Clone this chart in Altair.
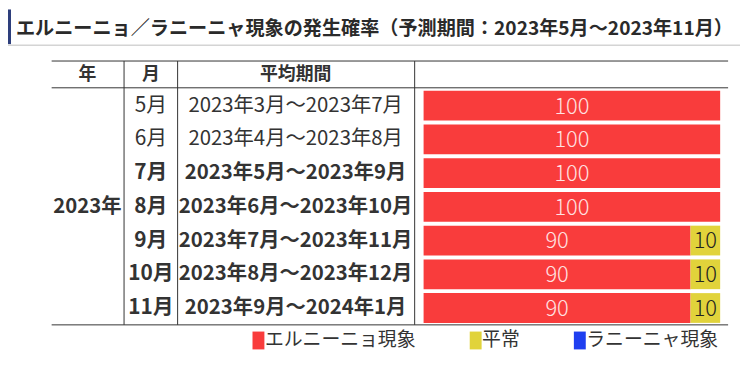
import altair as alt
import pandas as pd

# ---------------- data ----------------
title_text = "エルニーニョ／ラニーニャ現象の発生確率（予測期間：2023年5月～2023年11月）"
headers = ["年", "月", "平均期間"]
year_label = "2023年"
year_row = "8月"
months = ["5月", "6月", "7月", "8月", "9月", "10月", "11月"]
periods = [
    "2023年3月～2023年7月",
    "2023年4月～2023年8月",
    "2023年5月～2023年9月",
    "2023年6月～2023年10月",
    "2023年7月～2023年11月",
    "2023年8月～2023年12月",
    "2023年9月～2024年1月",
]
observed_months = ["5月", "6月"]
el_nino = [100, 100, 100, 100, 90, 90, 90]
normal = [0, 0, 0, 0, 10, 10, 10]
la_nina = [0, 0, 0, 0, 0, 0, 0]
categories = ["エルニーニョ現象", "平常", "ラニーニャ現象"]
colors = ["#f93c3c", "#e1d33b", "#1f3ff0"]

# ---------------- layout (plot coords) ----------------
FONT = "Noto Sans CJK JP"
TXT = "#333333"
LINE = "#333333"
W, H = 738, 356
TABLE_L, TABLE_R = 44, 726
Y_TOP, Y_HEAD, Y_BOT = 52, 79, 318
V_LINES = [117, 171, 410]
header_x = [80, 144, 290]
YEAR_X, MONTH_X, PERIOD_X = 80, 144, 290

rows = pd.DataFrame({
    "month": months,
    "period": periods,
    "observed": [m in observed_months for m in months],
})
rows_year = pd.DataFrame({"month": [year_row], "label": [year_label]})

long_rows = []
for i, m in enumerate(months):
    for k, (cat, vals) in enumerate(zip(categories, [el_nino, normal, la_nina])):
        long_rows.append({"month": m, "category": cat, "value": vals[i], "order": k})
bars_df = pd.DataFrame(long_rows)

anchor = pd.DataFrame({"a": [0]})

yscale = alt.Scale(domain=months, range=[80, 318], paddingInner=4 / 34, paddingOuter=2 / 34)
yenc = alt.Y("month:N", scale=yscale, axis=None, sort=months)
xscale = alt.Scale(domain=[0, 100], range=[419, 718], nice=False, zero=False)

layers = []

# title decoration
layers.append(alt.Chart(anchor).mark_rule(color="#2e3f7c", strokeWidth=3).encode(
    x=alt.value(1.5), y=alt.value(0), y2=alt.value(35)))
layers.append(alt.Chart(anchor).mark_rule(color="#d4d4d4", strokeWidth=1.5).encode(
    x=alt.value(0), x2=alt.value(W), y=alt.value(36)))
layers.append(alt.Chart(anchor).mark_text(
    align="left", baseline="middle", font=FONT, fontSize=19.3, fontWeight="bold", color="#2a2a2a"
).encode(x=alt.value(8), y=alt.value(20), text=alt.value(title_text)))

# table lines
for yy in [Y_TOP, Y_HEAD, Y_BOT]:
    layers.append(alt.Chart(anchor).mark_rule(color=LINE, strokeWidth=1).encode(
        x=alt.value(TABLE_L), x2=alt.value(TABLE_R), y=alt.value(yy)))
for xx in V_LINES:
    layers.append(alt.Chart(anchor).mark_rule(color=LINE, strokeWidth=1).encode(
        x=alt.value(xx), y=alt.value(Y_TOP), y2=alt.value(Y_BOT)))

# headers
for h, hx in zip(headers, header_x):
    layers.append(alt.Chart(anchor).mark_text(
        align="center", baseline="middle", font=FONT, fontSize=18, fontWeight="bold", color=TXT
    ).encode(x=alt.value(hx), y=alt.value(66), text=alt.value(h)))

# bars
bars = alt.Chart(bars_df).transform_stack(
    stack="value", groupby=["month"], as_=["x0", "x1"], sort=[alt.SortField("order")]
).mark_bar().encode(
    x=alt.X("x0:Q", scale=xscale, axis=None),
    x2="x1:Q",
    y=yenc,
    color=alt.Color(
        "category:N",
        scale=alt.Scale(domain=categories, range=colors),
        legend=alt.Legend(
            title=None, orient="none", legendX=240, legendY=324, direction="horizontal",
            symbolType="M-0.333,-1H1V1H-0.333Z", symbolSize=324,
            symbolStrokeWidth=0, symbolOpacity=1, labelFont=FONT, labelFontSize=19,
            labelColor=TXT, labelOffset=0, columnPadding=47, padding=0, labelLimit=400,
        ),
    ),
)
layers.append(bars)

bar_text = alt.Chart(bars_df).transform_stack(
    stack="value", groupby=["month"], as_=["x0", "x1"], sort=[alt.SortField("order")]
).transform_filter(alt.datum.value > 0).transform_calculate(
    mid="(datum.x0 + datum.x1) / 2"
).mark_text(align="center", baseline="middle", font=FONT, fontSize=22, fontWeight=300, dy=1).encode(
    x=alt.X("mid:Q", scale=xscale, axis=None),
    y=yenc,
    text=alt.Text("value:Q"),
    color=alt.condition(alt.datum.order == 0, alt.value("#ffe2e2"), alt.value("#222222")),
)
layers.append(bar_text)

# row labels
layers.append(alt.Chart(rows_year).mark_text(
    align="center", baseline="middle", font=FONT, fontSize=20.5, fontWeight="bold", color=TXT
).encode(x=alt.value(YEAR_X), y=yenc, text="label:N"))

for obs, weight in [(True, "normal"), (False, "bold")]:
    sub = rows[rows["observed"] == obs]
    layers.append(alt.Chart(sub).mark_text(
        align="center", baseline="middle", font=FONT, fontSize=21, fontWeight=weight, color=TXT
    ).encode(x=alt.value(MONTH_X), y=yenc, text="month:N"))
    layers.append(alt.Chart(sub).mark_text(
        align="center", baseline="middle", font=FONT, fontSize=20.5, fontWeight=weight, color=TXT
    ).encode(x=alt.value(PERIOD_X), y=yenc, text="period:N"))

chart = alt.layer(*layers).properties(
    width=W, height=H, autosize=alt.AutoSizeParams(type="none"), padding=0
).configure_view(strokeWidth=0)

chart.save("out.html", embed_options={"renderer": "svg", "actions": False})
